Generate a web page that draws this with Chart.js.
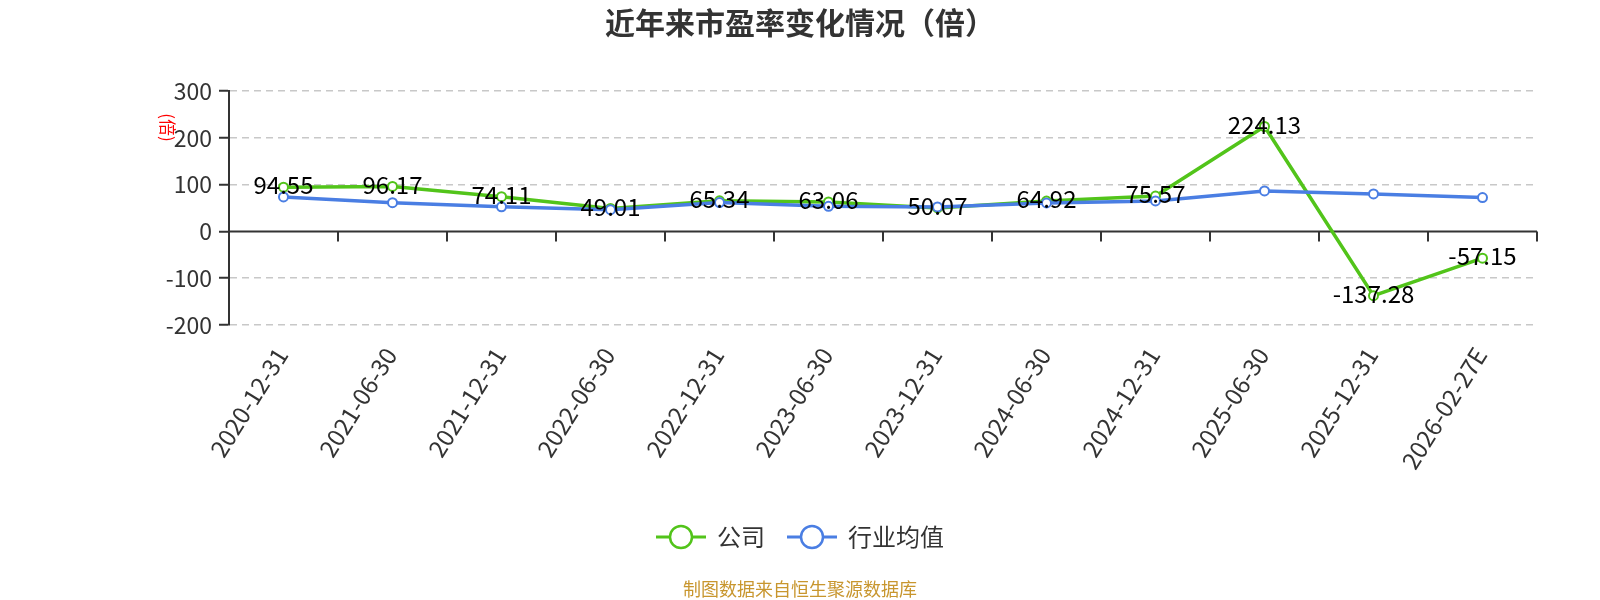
<!DOCTYPE html>
<html>
<head>
<meta charset="utf-8">
<script src="https://cdn.jsdelivr.net/npm/chart.js@4.4.1/dist/chart.umd.min.js"></script>
<style>
  html, body { margin: 0; padding: 0; background: #fff; }
  #wrap { width: 1600px; height: 600px; }
</style>
</head>
<body>
<div id="wrap"><canvas id="c" width="1600" height="600"></canvas></div>
<script>
const titleText = '近年来市盈率变化情况（倍）';
const unitText = '(倍)';
const sourceText = '制图数据来自恒生聚源数据库';
const categories = ['2020-12-31', '2021-06-30', '2021-12-31', '2022-06-30', '2022-12-31', '2023-06-30', '2023-12-31', '2024-06-30', '2024-12-31', '2025-06-30', '2025-12-31', '2026-02-27E'];
const seriesNames = ['公司', '行业均值'];
const companyPE = [94.55, 96.17, 74.11, 49.01, 65.34, 63.06, 50.07, 64.92, 75.57, 224.13, -137.28, -57.15];
const industryPE = [73.7, 61.3, 52.6, 46.5, 61.6, 53.6, 52.4, 60.9, 65.1, 86.4, 80.0, 72.2];
const yMin = -200, yMax = 300, yStep = 100;

const GREEN = '#52c41a';
const BLUE = '#4a7ee3';
const FONT = '"Noto Sans CJK SC", "Noto Sans", sans-serif';

const decorPlugin = {
  id: 'decor',
  beforeDatasetsDraw(chart) {
    const { ctx, chartArea, scales } = chart;
    const x = scales.x, y = scales.y;
    const y0 = y.getPixelForValue(0);
    ctx.save();
    ctx.strokeStyle = '#333';
    ctx.lineWidth = 2;
    ctx.beginPath();
    ctx.moveTo(chartArea.left, y0);
    ctx.lineTo(chartArea.right, y0);
    const n = categories.length;
    for (let i = 0; i < n; i++) {
      let bx;
      if (i < n - 1) bx = (x.getPixelForValue(i) + x.getPixelForValue(i + 1)) / 2;
      else bx = chartArea.right;
      bx = Math.round(bx);
      ctx.moveTo(bx, y0);
      ctx.lineTo(bx, y0 + 10);
    }
    ctx.stroke();
    ctx.restore();
  },
  afterDatasetsDraw(chart) {
    const { ctx } = chart;
    const meta = chart.getDatasetMeta(0);
    ctx.save();
    ctx.font = '24px ' + FONT;
    ctx.fillStyle = '#000';
    ctx.textAlign = 'center';
    ctx.textBaseline = 'middle';
    meta.data.forEach((pt, i) => {
      ctx.fillText(companyPE[i].toFixed(2), pt.x, pt.y - 2);
    });
    ctx.restore();
  },
  afterDraw(chart) {
    const { ctx, chartArea, scales } = chart;
    const W = chart.width;
    ctx.save();
    // title
    ctx.font = 'bold 30px ' + FONT;
    ctx.fillStyle = '#333';
    ctx.textAlign = 'center';
    ctx.textBaseline = 'middle';
    ctx.fillText(titleText, W / 2, 23);

    // x labels
    const x = scales.x;
    ctx.font = '24px ' + FONT;
    ctx.fillStyle = '#333';
    categories.forEach((lab, i) => {
      const px = x.getPixelForValue(i);
      ctx.save();
      ctx.translate(px - 2, chartArea.bottom + 25);
      ctx.rotate(-58 * Math.PI / 180);
      ctx.textAlign = 'right';
      ctx.textBaseline = 'middle';
      ctx.fillText(lab, 0, 0);
      ctx.restore();
    });

    // unit label
    ctx.save();
    ctx.font = '17px ' + FONT;
    ctx.fillStyle = '#ff0000';
    ctx.translate(167, scales.y.getPixelForValue(222));
    ctx.rotate(Math.PI / 2);
    ctx.textAlign = 'center';
    ctx.textBaseline = 'middle';
    ctx.fillText(unitText, 0, 0);
    ctx.restore();

    // legend
    ctx.font = '24px ' + FONT;
    const colors = [GREEN, BLUE];
    const symW = 50, gapT = 11, gapS = 22;
    const widths = seriesNames.map(s => ctx.measureText(s).width);
    let total = 0;
    widths.forEach((w, i) => { total += symW + gapT + w + (i < widths.length - 1 ? gapS : 0); });
    let lx = W / 2 - total / 2;
    const ly = 537;
    seriesNames.forEach((s, i) => {
      ctx.strokeStyle = colors[i];
      ctx.lineWidth = 3;
      ctx.beginPath();
      ctx.moveTo(lx, ly);
      ctx.lineTo(lx + symW, ly);
      ctx.stroke();
      ctx.beginPath();
      ctx.arc(lx + symW / 2, ly, 11, 0, Math.PI * 2);
      ctx.fillStyle = '#fff';
      ctx.fill();
      ctx.lineWidth = 2.5;
      ctx.stroke();
      ctx.fillStyle = '#333';
      ctx.textAlign = 'left';
      ctx.textBaseline = 'middle';
      ctx.fillText(s, lx + symW + gapT, ly);
      lx += symW + gapT + widths[i] + gapS;
    });

    // source
    ctx.font = '18px ' + FONT;
    ctx.fillStyle = '#c8962e';
    ctx.textAlign = 'center';
    ctx.textBaseline = 'middle';
    ctx.fillText(sourceText, W / 2, 589);
    ctx.restore();
  }
};

new Chart(document.getElementById('c'), {
  type: 'line',
  data: {
    labels: categories,
    datasets: [
      {
        label: seriesNames[0],
        data: companyPE,
        borderColor: GREEN,
        backgroundColor: '#fff',
        pointBackgroundColor: '#fff',
        pointBorderColor: GREEN,
        borderWidth: 3.5,
        pointRadius: 4.5,
        pointBorderWidth: 2,
        tension: 0,
        order: 1
      },
      {
        label: seriesNames[1],
        data: industryPE,
        borderColor: BLUE,
        backgroundColor: '#fff',
        pointBackgroundColor: '#fff',
        pointBorderColor: BLUE,
        borderWidth: 3.5,
        pointRadius: 4.5,
        pointBorderWidth: 2,
        tension: 0,
        order: 0
      }
    ]
  },
  options: {
    responsive: false,
    animation: false,
    devicePixelRatio: 1,
    layout: { padding: { top: 91, right: 63, bottom: 275, left: 0 } },
    plugins: {
      legend: { display: false },
      title: { display: false },
      tooltip: { enabled: false }
    },
    scales: {
      x: {
        display: false,
        offset: true
      },
      y: {
        min: yMin,
        max: yMax,
        afterFit(scale) { scale.width = 229; },
        ticks: {
          stepSize: yStep,
          color: '#333',
          padding: 7,
          font: { family: FONT, size: 23 }
        },
        grid: {
          color: (c) => (c.tick && c.tick.value === 0 ? 'rgba(0,0,0,0)' : '#c8c8c8'),
          lineWidth: 1.5,
          tickLength: 10,
          tickColor: '#333',
          tickWidth: 2,
          tickBorderDash: []
        },
        border: {
          display: true,
          color: '#333',
          width: 2,
          dash: [7, 5]
        }
      }
    }
  },
  plugins: [decorPlugin]
});
</script>
</body>
</html>
